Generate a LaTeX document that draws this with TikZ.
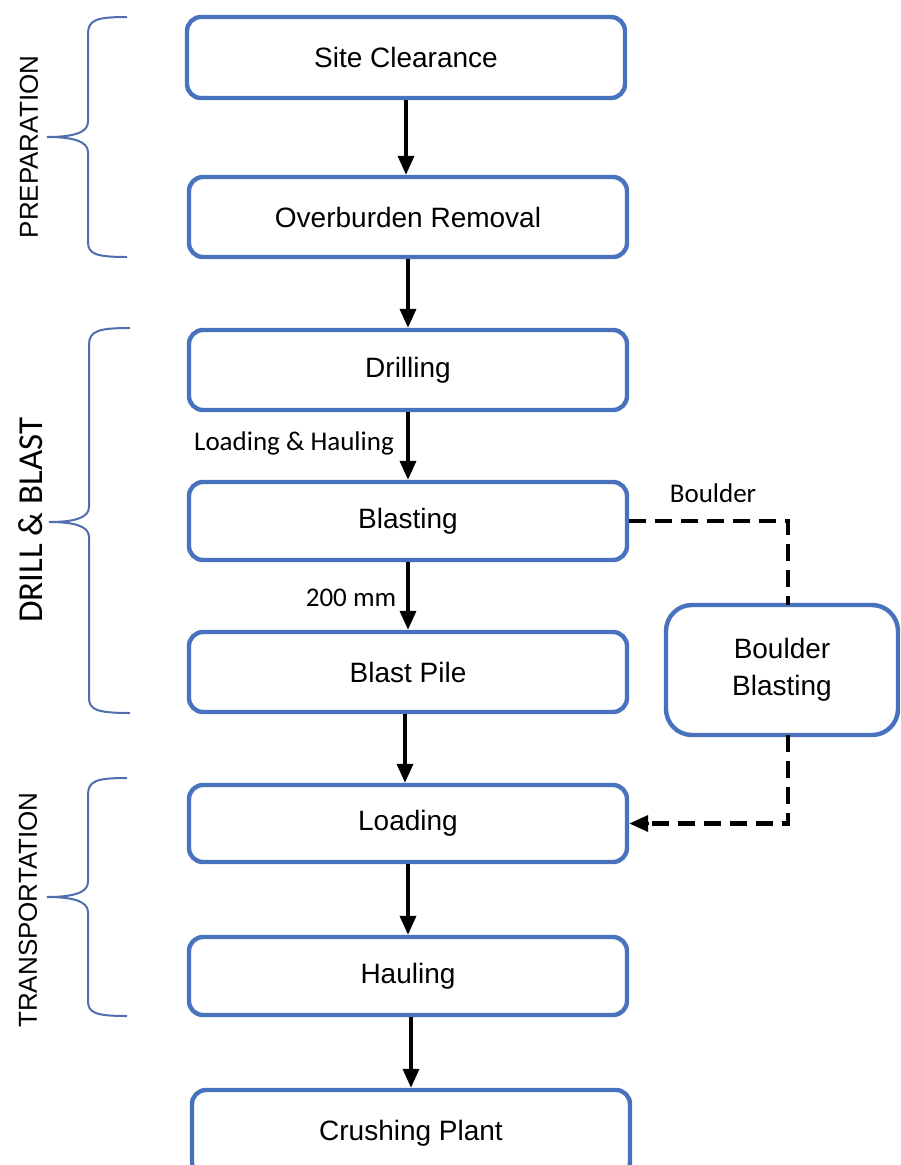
\documentclass[tikz,border=0pt]{standalone}
\usepackage{fontspec}
\setmainfont{Liberation Sans}
\newfontfamily\calibrifont{Carlito}
\usetikzlibrary{arrows.meta}
\definecolor{boxblue}{RGB}{72,114,190}
\definecolor{braceblue}{RGB}{80,110,175}
\begin{document}
\begin{tikzpicture}[x=1pt,y=-1pt,
  stepbox/.style={draw=boxblue, line width=4.4pt, rounded corners=14pt, fill=white,
    minimum width=438pt, inner sep=0pt, font=\fontsize{28}{34}\selectfont},
  flow/.style={line width=3.6pt, -{Triangle[length=19pt,width=16pt]}},
  dflow/.style={line width=4.2pt, dash pattern=on 17pt off 9pt},
  brace/.style={draw=braceblue, line width=2pt},
  small/.style={font=\calibrifont\fontsize{27}{32}\selectfont, inner sep=0pt},
  phase/.style={rotate=90, inner sep=0pt}]
\clip (0,0) rectangle (901,1165);
\fill[white] (0,0) rectangle (901,1165);

\node[stepbox, minimum height=81pt] (site) at (406,57.5) {Site Clearance};
\node[stepbox, minimum height=80pt] (over) at (408,217) {Overburden Removal};
\node[stepbox, minimum height=80pt] (drill) at (408,370) {Drilling};
\node[stepbox, minimum height=78pt] (blast) at (408,521) {Blasting};
\node[stepbox, minimum height=80pt] (pile) at (408,672) {Blast Pile};
\node[stepbox, minimum height=77pt] (load) at (408,823.5) {Loading};
\node[stepbox, minimum height=78pt] (haul) at (408,976) {Hauling};
\node[stepbox, minimum height=86pt] (crush) at (411,1133) {Crushing Plant};
\node[stepbox, rounded corners=26pt, minimum width=232pt, minimum height=130pt, align=center,
  font=\fontsize{28}{37}\selectfont] (boulder) at (782,670) {Boulder\\Blasting};

\draw[flow] (site.south) -- (site.south |- over.north);
\draw[flow] (over.south) -- (over.south |- drill.north);
\draw[flow] (drill.south) -- (drill.south |- blast.north);
\draw[flow] (blast.south) -- (blast.south |- pile.north);
\draw[flow] ([xshift=-3pt]pile.south) -- ([xshift=-3pt]load.north);
\draw[flow] (load.south) -- (load.south |- haul.north);
\draw[flow] (haul.south -| crush.north) -- (crush.north);

\coordinate (bt) at (788,605);
\coordinate (bb) at (788,735);
\draw[dflow] (blast.east) -| (bt);
\draw[dflow] (bb) |- ([xshift=18pt]load.east);
\draw[flow] ([xshift=20pt]load.east) -- (load.east);

\node[small] (lh) at (294,443) {Loading \& Hauling};
\node[small] (mm) at (351,598) {200 mm};
\node[small] (bl) at (713,493) {Boulder};

% braces
\draw[brace] (127,17) .. controls (96,17) and (88,20) .. (88,34) -- (88,122) .. controls (88,133) and (72,137) .. (47,137);
\draw[brace] (47,137) .. controls (72,137) and (88,141) .. (88,152) -- (88,242) .. controls (88,254) and (96,257) .. (127,257);
\draw[brace] (130,328) .. controls (98,328) and (89,331) .. (89,345) -- (89,507) .. controls (89,518) and (74,522) .. (49,522);
\draw[brace] (49,522) .. controls (74,522) and (89,526) .. (89,537) -- (89,698) .. controls (89,710) and (98,713) .. (130,713);
\draw[brace] (127,778) .. controls (96,778) and (88,781) .. (88,795) -- (88,882) .. controls (88,893) and (72,897) .. (47,897);
\draw[brace] (47,897) .. controls (72,897) and (88,901) .. (88,912) -- (88,1001) .. controls (88,1013) and (96,1016) .. (127,1016);

\node[phase, font=\fontsize{26}{30}\selectfont] (prep) at (29,147) {PREPARATION};
\node[phase, font=\calibrifont\fontsize{35}{40}\selectfont] (db) at (31,520) {DRILL \& BLAST};
\node[phase, font=\fontsize{26}{30}\selectfont] (trans) at (28,910) {TRANSPORTATION};
\end{tikzpicture}
\end{document}
